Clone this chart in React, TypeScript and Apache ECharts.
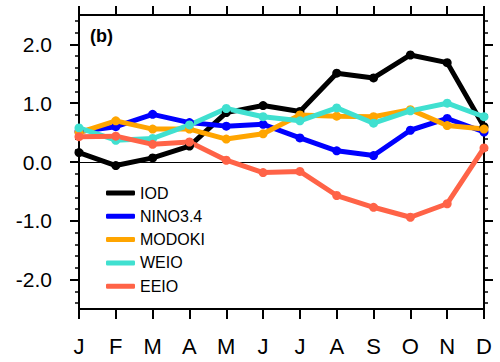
import React, { useEffect, useRef } from "react";
import * as echarts from "echarts";

const months = ["J", "F", "M", "A", "M", "J", "J", "A", "S", "O", "N", "D"];
const iod = [0.16, -0.06, 0.07, 0.27, 0.84, 0.96, 0.86, 1.51, 1.43, 1.82, 1.69, 0.6];
const nino34 = [0.52, 0.6, 0.81, 0.67, 0.61, 0.64, 0.41, 0.19, 0.11, 0.54, 0.74, 0.51];
const modoki = [0.5, 0.7, 0.56, 0.56, 0.39, 0.48, 0.8, 0.78, 0.77, 0.89, 0.62, 0.56];
const weio = [0.58, 0.37, 0.4, 0.63, 0.91, 0.77, 0.7, 0.92, 0.66, 0.87, 1.0, 0.77];
const eeio = [0.43, 0.44, 0.3, 0.34, 0.03, -0.18, -0.16, -0.57, -0.77, -0.94, -0.71, 0.24];

const majorTicks = [-2, -1, 0, 1, 2];
const minorTicks = [
  -2.4, -2.2, -1.8, -1.6, -1.4, -1.2, -0.8, -0.6, -0.4, -0.2,
  0.2, 0.4, 0.6, 0.8, 1.2, 1.4, 1.6, 1.8, 2.2, 2.4,
];

const seriesDefs = [
  { name: "IOD", data: iod, color: "#000000" },
  { name: "NINO3.4", data: nino34, color: "#0000ff" },
  { name: "MODOKI", data: modoki, color: "#ffa500" },
  { name: "WEIO", data: weio, color: "#40e0d0" },
  { name: "EEIO", data: eeio, color: "#ff6347" },
];

const FONT = "'Liberation Sans', Arial, Helvetica, sans-serif";

export default function App() {
  const ref = useRef<HTMLDivElement>(null);
  useEffect(() => {
    if (!ref.current) return;
    const chart = echarts.init(ref.current, null, { renderer: "svg" });

    const yBase = (gridIndex: number, position: string, ticks: number[], len: number, w: number, labels: boolean) => ({
      type: "value",
      gridIndex,
      position,
      min: -2.5,
      max: 2.5,
      axisLine: { show: true, onZero: false, lineStyle: { color: "#000", width: 2 } },
      axisTick: {
        show: true,
        inside: false,
        length: len,
        customValues: ticks,
        lineStyle: { color: "#000", width: w },
      },
      axisLabel: labels
        ? {
            show: true,
            customValues: majorTicks,
            formatter: (v: number) => v.toFixed(1),
            fontSize: 21,
            fontFamily: FONT,
            color: "#000",
            margin: 27,
          }
        : { show: false },
      splitLine: { show: false },
    });

    const xBase = (gridIndex: number, position: string, labels: boolean, len: number, show = true) => ({
      type: "category",
      gridIndex,
      show,
      position,
      data: months,
      boundaryGap: false,
      axisLine: { show: true, onZero: false, lineStyle: { color: "#000", width: 2 } },
      axisTick: { show: true, inside: false, length: len, lineStyle: { color: "#000", width: 2 } },
      axisLabel: labels
        ? { show: true, fontSize: 22, fontFamily: FONT, color: "#000", margin: 26, interval: 0 }
        : { show: false },
      splitLine: { show: false },
    });

    const gridRect = { left: 79, right: 16, top: 15, bottom: 53, containLabel: false };

    chart.setOption({
      animation: false,
      backgroundColor: "#ffffff",
      grid: [
        { ...gridRect },
        { ...gridRect },
        { ...gridRect },
        { ...gridRect },
      ],
      xAxis: [
        xBase(0, "bottom", true, 10),
        xBase(1, "top", false, 9),
        xBase(2, "bottom", false, 0, false),
        xBase(3, "bottom", false, 0, false),
      ],
      yAxis: [
        yBase(0, "left", majorTicks, 9, 2, true),
        yBase(1, "right", majorTicks, 9, 2, false),
        yBase(2, "left", minorTicks, 4, 1.5, false),
        yBase(3, "right", minorTicks, 4, 1.5, false),
      ],
      legend: {
        show: true,
        orient: "vertical",
        left: 101,
        top: 180,
        icon: "roundRect",
        itemWidth: 29,
        itemHeight: 5,
        itemGap: 7.3,
        textStyle: { fontSize: 16, fontFamily: FONT, color: "#000" },
        data: seriesDefs.map((s) => s.name),
      },
      graphic: [
        {
          type: "text",
          left: 90,
          top: 27,
          style: { text: "(b)", fontSize: 18, fontWeight: "bold", fontFamily: FONT, fill: "#000" },
        },
      ],
      series: seriesDefs.map((s, i) => ({
        name: s.name,
        type: "line",
        data: s.data,
        xAxisIndex: 0,
        yAxisIndex: 0,
        symbol: "circle",
        symbolSize: 9,
        showSymbol: true,
        color: s.color,
        lineStyle: { width: 5, color: s.color },
        itemStyle: { color: s.color },
        z: 3,
        markLine:
          i === 0
            ? {
                silent: true,
                symbol: ["none", "none"],
                label: { show: false },
                lineStyle: { color: "#000", width: 1, type: "solid" },
                data: [{ yAxis: 0 }],
                z: 1,
              }
            : undefined,
      })),
    });
    return () => chart.dispose();
  }, []);
  return (
    <div
      ref={ref}
      style={{ position: "fixed", left: 0, top: 0, width: 500, height: 362 }}
    />
  );
}
